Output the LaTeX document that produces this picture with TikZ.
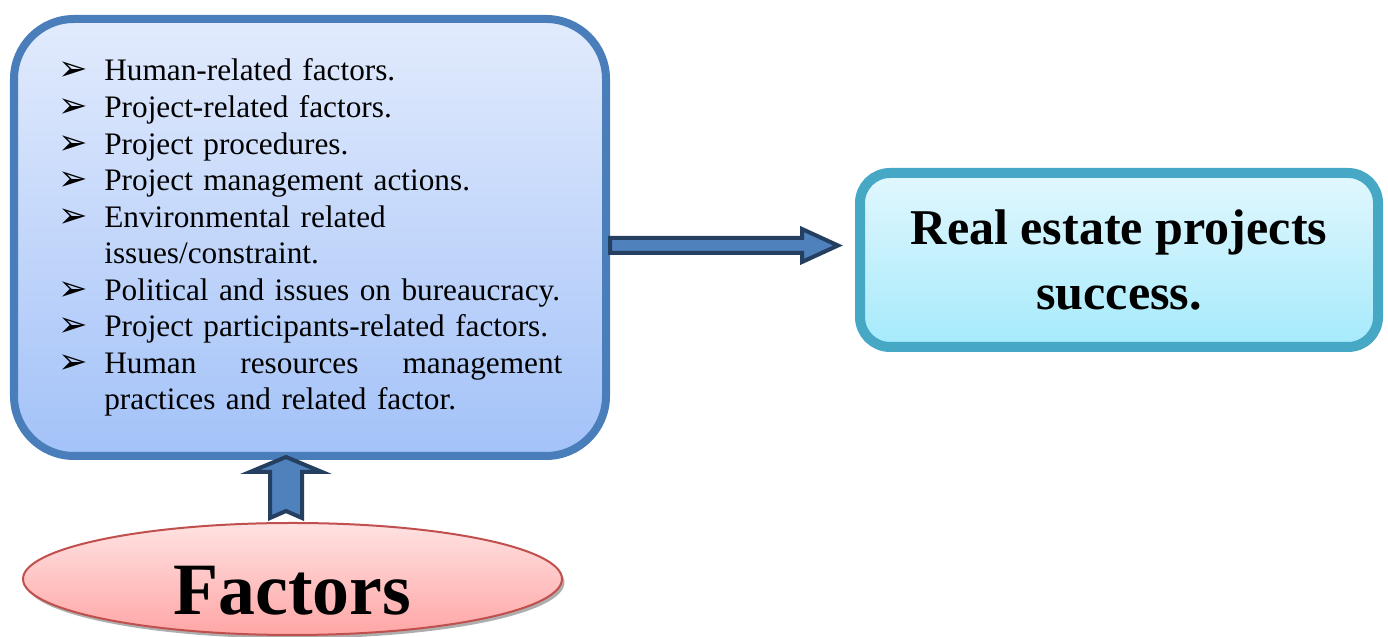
\documentclass[tikz,border=0pt]{standalone}
\usepackage{fontspec}
\setmainfont{Liberation Serif}
\newfontfamily\dejavu{DejaVu Sans}
\usetikzlibrary{calc,shapes.geometric,shadows}

\newcommand{\factitem}{\makebox[0.92cm][l]{\dejavu\fontsize{20}{20}\selectfont ➢}}

\tikzset{
  factbox/.style={draw=boxblue, line width=0.16cm, rounded corners=1.2cm,
    top color=boxtop, bottom color=boxbottom,
    minimum width=11.84cm, minimum height=8.74cm, inner sep=0pt},
  listtext/.style={text width=10.08cm, align=left, inner sep=0pt,
    font=\fontsize{17.8}{20.8}\selectfont},
  goalbox/.style={draw=goalaqua, line width=0.2cm, rounded corners=0.6cm,
    top color=goaltop, bottom color=goalbottom,
    minimum width=10.36cm, minimum height=3.48cm, inner sep=0pt,
    align=center, font=\bfseries\fontsize{28.5}{37}\selectfont,
    drop shadow={shadow xshift=0.06cm, shadow yshift=-0.08cm, fill=black!45, opacity=0.7}},
  factoval/.style={ellipse, draw=ovalred, line width=0.04cm,
    top color=ovaltop, bottom color=ovalbottom,
    minimum width=10.78cm, minimum height=2.24cm, inner sep=0pt,
    drop shadow={shadow xshift=0.05cm, shadow yshift=-0.07cm, fill=black!45, opacity=0.7}},
  blockarrow/.style={draw=arrowdark, fill=arrowblue, line width=0.08cm, line join=miter}
}

\begin{document}
\begin{tikzpicture}
  \useasboundingbox (0,0) rectangle (27.76,12.74);

  % Changing colors
  \definecolor{boxblue}{RGB}{74,126,187}%
  \definecolor{boxtop}{RGB}{226,235,253}%
  \definecolor{boxbottom}{RGB}{163,194,248}%
  \definecolor{goalaqua}{RGB}{70,168,196}%
  \definecolor{goaltop}{RGB}{226,247,253}%
  \definecolor{goalbottom}{RGB}{165,234,252}%
  \definecolor{ovalred}{RGB}{192,80,77}%
  \definecolor{ovaltop}{RGB}{255,226,226}%
  \definecolor{ovalbottom}{RGB}{255,166,166}%
  \definecolor{arrowblue}{RGB}{79,129,189}%
  \definecolor{arrowdark}{RGB}{36,63,96}%

  % Box of the factors
  \node [factbox] (facts) at (6.2,7.99) {};
  \node [listtext, anchor=base west] (factlist) at (1.16,11.12) {%
    \factitem Human-related factors.\\
    \factitem Project-related factors.\\
    \factitem Project procedures.\\
    \factitem Project management actions.\\
    \factitem Environmental related\\
    \hspace*{0.92cm}issues/constraint.\\
    \factitem Political and issues on bureaucracy.\\
    \factitem Project participants-related factors.\\
    \factitem \makebox[9.16cm][l]{Human\hfill resources\hfill management}\\
    \hspace*{0.92cm}practices and related factor.};

  % Box of the success
  \node [goalbox] (success) at (22.38,7.54) {Real estate projects\\success.};

  % Oval of the factors
  \node [factoval] (factors) at (5.85,1.16) {};
  \node [anchor=base, font=\bfseries\fontsize{42}{42}\selectfont] (factorsword)
    at ($(factors.center)+(0,-0.72)$) {Factors};

  % Drawing arrow facts -> success
  \coordinate (hs) at ($(facts.east)+(0,-0.16)$);
  \path (hs -| success.west) ++(-0.34,0) coordinate (ht);
  \draw [blockarrow] ($(hs)+(0,0.15)$) -- ($(ht)+(-0.72,0.15)$) -- ($(ht)+(-0.72,0.33)$)
    -- (ht) -- ($(ht)+(-0.72,-0.33)$) -- ($(ht)+(-0.72,-0.15)$) -- ($(hs)+(0,-0.15)$) -- cycle;

  % Drawing arrow factors -> facts
  \coordinate (vt) at ($(facts.south)+(-0.48,0.06)$);
  \draw [blockarrow] (vt) -- ++(0.72,-0.30) -- ++(-0.4,0) -- ++(0,-0.92) -- ++(-0.32,0.14)
    -- ++(-0.32,-0.14) -- ++(0,0.92) -- ++(-0.4,0) -- cycle;
\end{tikzpicture}
\end{document}
